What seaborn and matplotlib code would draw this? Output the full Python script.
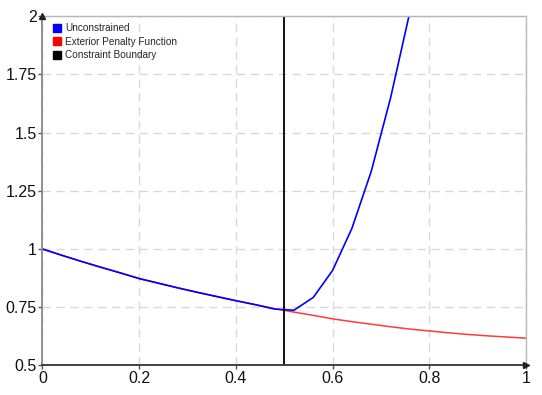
import numpy as np
import pandas as pd
import matplotlib
matplotlib.use("Agg")
import matplotlib.pyplot as plt
from matplotlib.lines import Line2D
import seaborn as sns

# ---- data ----
x_penalty = [0.00, 0.04, 0.08, 0.12, 0.16, 0.20, 0.24, 0.28, 0.32, 0.36, 0.40,
             0.44, 0.48, 0.52, 0.56, 0.60, 0.64, 0.68, 0.72, 0.76, 0.80,
             0.84, 0.88, 0.92, 0.96, 1.00]
y_penalty = [1.000, 0.973, 0.947, 0.922, 0.898, 0.873, 0.853, 0.833, 0.814, 0.796, 0.778,
             0.761, 0.744, 0.729, 0.715, 0.700, 0.688, 0.677, 0.666, 0.656, 0.648,
             0.640, 0.633, 0.627, 0.622, 0.617]
x_uncon = [0.00, 0.04, 0.08, 0.12, 0.16, 0.20, 0.24, 0.28, 0.32, 0.36, 0.40,
           0.44, 0.48, 0.52, 0.56, 0.60, 0.64, 0.68, 0.72, 0.76, 0.80]
y_uncon = [1.000, 0.973, 0.947, 0.922, 0.898, 0.873, 0.853, 0.833, 0.814, 0.796, 0.778,
           0.761, 0.742, 0.737, 0.792, 0.908, 1.089, 1.334, 1.650, 2.020, 2.450]
x_boundary = [0.5, 0.5]
y_boundary = [0.5, 2.0]
legend_labels = ["Unconstrained", "Exterior Penalty Function", "Constraint Boundary"]
x_ticks = [0, 0.2, 0.4, 0.6, 0.8, 1]
x_ticklabels = ["0", "0.2", "0.4", "0.6", "0.8", "1"]
y_ticks = [0.5, 0.75, 1, 1.25, 1.5, 1.75, 2]
y_ticklabels = ["0.5", "0.75", "1", "1.25", "1.5", "1.75", "2"]

sns.set_style("white")
plt.rcParams["font.family"] = ["Liberation Sans", "DejaVu Sans"]

fig = plt.figure(figsize=(5.42, 3.95), dpi=100)
ax = fig.add_axes([0.0784, 0.0749, 0.9705 - 0.0784, 0.959 - 0.0749])

df_pen = pd.DataFrame({"x": x_penalty, "y": y_penalty})
df_unc = pd.DataFrame({"x": x_uncon, "y": y_uncon})
df_bnd = pd.DataFrame({"x": x_boundary, "y": y_boundary})

sns.lineplot(data=df_pen, x="x", y="y", color="#ff3a3a", linewidth=1.1, ax=ax,
             sort=False, estimator=None, errorbar=None)
sns.lineplot(data=df_unc, x="x", y="y", color="#0000ff", linewidth=1.2, ax=ax,
             sort=False, estimator=None, errorbar=None)
sns.lineplot(data=df_bnd, x="x", y="y", color="#000000", linewidth=1.3, ax=ax,
             sort=False, estimator=None, errorbar=None)

ax.set_xlim(0, 1)
ax.set_ylim(0.5, 2)
ax.set_xticks(x_ticks)
ax.set_xticklabels(x_ticklabels)
ax.set_yticks(y_ticks)
ax.set_yticklabels(y_ticklabels)
ax.set_xlabel("")
ax.set_ylabel("")

ax.grid(True, color="#d8d8d8", linestyle=(0, (6, 4)), linewidth=1.0)
ax.set_axisbelow(True)

ax.tick_params(axis="both", which="major", direction="out", length=3, width=1,
               color="#555555", labelsize=11.5, labelcolor="#111111", pad=1,
               bottom=True, left=True)

for s in ["top", "right"]:
    ax.spines[s].set_color("#b8b8b8")
    ax.spines[s].set_linewidth(1.0)
ax.spines["left"].set_color("#888888")
ax.spines["left"].set_linewidth(1.3)
ax.spines["bottom"].set_color("#333333")
ax.spines["bottom"].set_linewidth(1.3)

# axis arrow heads
ax.plot([0], [1.0], marker="^", markersize=4, color="#222222", transform=ax.transAxes,
        clip_on=False, zorder=5)
ax.plot([1.0], [0], marker=">", markersize=4, color="#222222", transform=ax.transAxes,
        clip_on=False, zorder=5)

handles = [Line2D([], [], marker="s", linestyle="none", markersize=5.2, color=c)
           for c in ["#0000ff", "#ff0000", "#000000"]]
leg = ax.legend(handles, legend_labels, loc="upper left", bbox_to_anchor=(0.008, 1.0),
                frameon=False, fontsize=7.2, handlelength=0.7, handletextpad=0.45,
                labelspacing=0.36, borderaxespad=0.3)

fig.savefig("out.png", dpi=100, facecolor="white")
